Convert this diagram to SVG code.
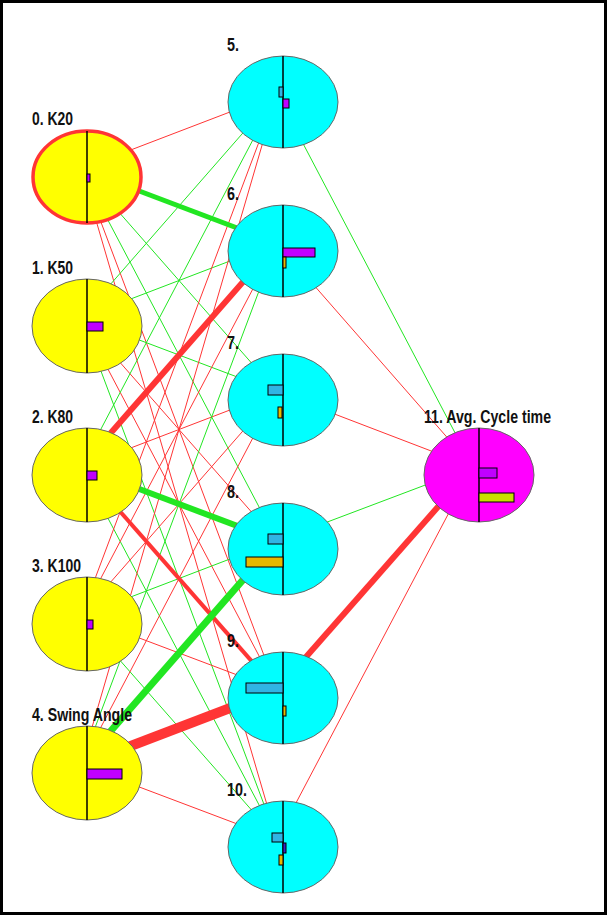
<svg xmlns="http://www.w3.org/2000/svg" width="608" height="916" viewBox="0 0 608 916">
<style>
.r{stroke:#ff3535;fill:none}
.g{stroke:#22e622;fill:none}
.t{stroke-width:1}
.in{fill:#ffff00;stroke:#666;stroke-width:1}
.hid{fill:#00ffff;stroke:#666;stroke-width:1}
.out{fill:#ff00ff;stroke:#666;stroke-width:1}
.ax{stroke:#000;stroke-width:1.5}
.bp{fill:#c000ff;stroke:#000;stroke-width:1}
.bb{fill:#30b4e4;stroke:#000;stroke-width:1}
.by{fill:#e8b800;stroke:#000;stroke-width:1}
.bd{fill:#3a20c8;stroke:#000;stroke-width:1}
.bl{fill:#c8e000;stroke:#000;stroke-width:1}
.lb{font-family:"Liberation Sans Narrow","Liberation Sans",Arial,sans-serif;font-weight:bold;font-size:19px;fill:#111}
</style>
<rect x="0" y="0" width="608" height="916" fill="#fff"/>
<g id="connectors" transform="translate(-6,-8)">
<line class="r t" x1="87" y1="177" x2="283" y2="102"/>
<line class="g t" x1="87" y1="177" x2="283" y2="400"/>
<line class="g t" x1="87" y1="177" x2="283" y2="549"/>
<line class="r t" x1="87" y1="177" x2="283" y2="698"/>
<line class="r t" x1="87" y1="177" x2="283" y2="847"/>
<line class="g t" x1="87" y1="326" x2="283" y2="102"/>
<line class="g t" x1="87" y1="326" x2="283" y2="251"/>
<line class="g t" x1="87" y1="326" x2="283" y2="400"/>
<line class="r t" x1="87" y1="326" x2="283" y2="549"/>
<line class="r t" x1="87" y1="326" x2="283" y2="698"/>
<line class="g t" x1="87" y1="326" x2="283" y2="847"/>
<line class="g t" x1="87" y1="475" x2="283" y2="102"/>
<line class="r t" x1="87" y1="475" x2="283" y2="400"/>
<line class="g t" x1="87" y1="475" x2="283" y2="847"/>
<line class="r t" x1="87" y1="624" x2="283" y2="102"/>
<line class="r t" x1="87" y1="624" x2="283" y2="251"/>
<line class="r t" x1="87" y1="624" x2="283" y2="400"/>
<line class="g t" x1="87" y1="624" x2="283" y2="549"/>
<line class="r t" x1="87" y1="624" x2="283" y2="698"/>
<line class="g t" x1="87" y1="624" x2="283" y2="847"/>
<line class="r t" x1="87" y1="773" x2="283" y2="102"/>
<line class="g t" x1="87" y1="773" x2="283" y2="251"/>
<line class="r t" x1="87" y1="773" x2="283" y2="400"/>
<line class="r t" x1="87" y1="773" x2="283" y2="847"/>
<line class="g t" x1="283" y1="102" x2="479" y2="475"/>
<line class="r t" x1="283" y1="251" x2="479" y2="475"/>
<line class="r t" x1="283" y1="400" x2="479" y2="475"/>
<line class="g t" x1="283" y1="549" x2="479" y2="475"/>
<line class="r t" x1="283" y1="847" x2="479" y2="475"/>
<line class="g" stroke-width="5" x1="87" y1="177" x2="283" y2="251"/>
<line class="r" stroke-width="6" x1="87" y1="475" x2="283" y2="251"/>
<line class="g" stroke-width="6" x1="87" y1="475" x2="283" y2="549"/>
<line class="r" stroke-width="4" x1="87" y1="475" x2="283" y2="698"/>
<line class="g" stroke-width="7" x1="87" y1="773" x2="283" y2="549"/>
<line class="r" stroke-width="10" x1="87" y1="773" x2="283" y2="698"/>
<line class="r" stroke-width="6" x1="283" y1="698" x2="479" y2="475"/>
</g>
<g id="n0">
<ellipse cx="87" cy="177" rx="54" ry="46" fill="#ffff00" stroke="#ff3535" stroke-width="3.5"/>
<line class="ax" x1="87" y1="131" x2="87" y2="223"/>
<rect class="bp" x="87" y="174" width="3" height="8"/>
<text class="lb" x="32" y="125" textLength="41" lengthAdjust="spacingAndGlyphs">0. K20</text>
</g>
<g id="n1">
<ellipse class="in" cx="87" cy="326" rx="55" ry="47"/>
<line class="ax" x1="87" y1="279" x2="87" y2="373"/>
<rect class="bp" x="87" y="322" width="16" height="9"/>
<text class="lb" x="32" y="274" textLength="41" lengthAdjust="spacingAndGlyphs">1. K50</text>
</g>
<g id="n2">
<ellipse class="in" cx="87" cy="475" rx="55" ry="47"/>
<line class="ax" x1="87" y1="428" x2="87" y2="522"/>
<rect class="bp" x="87" y="471" width="10" height="9"/>
<text class="lb" x="32" y="423" textLength="41" lengthAdjust="spacingAndGlyphs">2. K80</text>
</g>
<g id="n3">
<ellipse class="in" cx="87" cy="624" rx="55" ry="47"/>
<line class="ax" x1="87" y1="577" x2="87" y2="671"/>
<rect class="bp" x="87" y="620" width="6" height="9"/>
<text class="lb" x="32" y="572" textLength="49" lengthAdjust="spacingAndGlyphs">3. K100</text>
</g>
<g id="n4">
<ellipse class="in" cx="87" cy="773" rx="55" ry="47"/>
<line class="ax" x1="87" y1="726" x2="87" y2="820"/>
<rect class="bp" x="87" y="769" width="35" height="10"/>
<text class="lb" x="32" y="721" textLength="100" lengthAdjust="spacingAndGlyphs">4. Swing Angle</text>
</g>
<g id="n5">
<ellipse class="hid" cx="283" cy="102" rx="55" ry="46"/>
<line class="ax" x1="283" y1="56" x2="283" y2="148"/>
<rect class="bb" x="279" y="87" width="4" height="10"/>
<rect class="bp" x="283" y="99" width="6" height="9"/>
<text class="lb" x="227" y="51" textLength="12" lengthAdjust="spacingAndGlyphs">5.</text>
</g>
<g id="n6">
<ellipse class="hid" cx="283" cy="251" rx="55" ry="46"/>
<line class="ax" x1="283" y1="205" x2="283" y2="297"/>
<rect class="bp" x="283" y="248" width="32" height="9"/>
<rect class="by" x="283" y="257" width="3" height="11"/>
<text class="lb" x="227" y="200" textLength="12" lengthAdjust="spacingAndGlyphs">6.</text>
</g>
<g id="n7">
<ellipse class="hid" cx="283" cy="400" rx="55" ry="46"/>
<line class="ax" x1="283" y1="354" x2="283" y2="446"/>
<rect class="bb" x="268" y="385" width="15" height="10"/>
<rect class="by" x="278" y="407" width="4" height="11"/>
<text class="lb" x="227" y="349" textLength="12" lengthAdjust="spacingAndGlyphs">7.</text>
</g>
<g id="n8">
<ellipse class="hid" cx="283" cy="549" rx="55" ry="46"/>
<line class="ax" x1="283" y1="503" x2="283" y2="595"/>
<rect class="bb" x="268" y="534" width="15" height="10"/>
<rect class="by" x="246" y="557" width="37" height="10"/>
<text class="lb" x="227" y="498" textLength="12" lengthAdjust="spacingAndGlyphs">8.</text>
</g>
<g id="n9">
<ellipse class="hid" cx="283" cy="698" rx="55" ry="46"/>
<line class="ax" x1="283" y1="652" x2="283" y2="744"/>
<rect class="bb" x="246" y="683" width="37" height="10"/>
<rect class="by" x="283" y="706" width="3" height="10"/>
<text class="lb" x="227" y="647" textLength="12" lengthAdjust="spacingAndGlyphs">9.</text>
</g>
<g id="n10">
<ellipse class="hid" cx="283" cy="847" rx="55" ry="46"/>
<line class="ax" x1="283" y1="801" x2="283" y2="893"/>
<rect class="bb" x="272" y="833" width="11" height="9"/>
<rect class="bd" x="283" y="843" width="3" height="10"/>
<rect class="by" x="279" y="855" width="4" height="10"/>
<text class="lb" x="227" y="796" textLength="20" lengthAdjust="spacingAndGlyphs">10.</text>
</g>
<g id="n11">
<ellipse class="out" cx="479" cy="475" rx="55" ry="47"/>
<line class="ax" x1="479" y1="428" x2="479" y2="522"/>
<rect class="bp" x="479" y="468" width="18" height="10"/>
<rect class="bl" x="479" y="493" width="35" height="9"/>
<text class="lb" x="424" y="423" textLength="127" lengthAdjust="spacingAndGlyphs">11. Avg. Cycle time</text>
</g>
<rect x="1.5" y="1.5" width="604" height="912" fill="none" stroke="#000" stroke-width="3"/>
</svg>
